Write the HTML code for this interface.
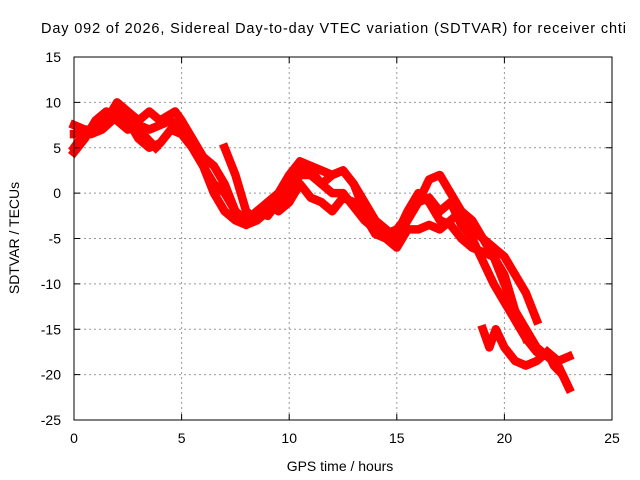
<!DOCTYPE html>
<html><head><meta charset="utf-8"><style>
body{margin:0;background:#fff}
svg{display:block;font-family:"Liberation Sans",sans-serif}
</style></head><body>
<svg id="chart" width="640" height="480" viewBox="0 0 640 480">
<rect x="0" y="0" width="640" height="480" fill="#fff"/>
<text x="41" y="33" font-size="14.5" textLength="585">Day 092 of 2026, Sidereal Day-to-day VTEC variation (SDTVAR) for receiver chti</text>
<g id="grid"></g>
<g id="series"></g>
<rect x="74" y="57" width="538" height="363" fill="none" stroke="#000" stroke-width="1"/>
<g id="ticks"></g>
<text x="340" y="471" font-size="14" text-anchor="middle">GPS time / hours</text>
<text x="19" y="238" font-size="14" text-anchor="middle" transform="rotate(-90 19 238)">SDTVAR / TECUs</text>
</svg>
<script>
const xTicks=[0,5,10,15,20,25];
const yTicks=[15,10,5,0,-5,-10,-15,-20,-25];
const s1=[[0,5],[0.3,6],[0.7,7],[1.5,8],[2,10],[2.5,9],[3,8],[3.5,9],[4,8],[4.7,9],[5,8],[5.5,6],[6,4],[6.5,3],[7,1],[7.5,-2],[8,-3.5],[8.5,-3],[9,-1],[9.5,0],[10,1.5],[10.5,3],[11,2.5],[11.5,1],[12,2],[12.5,2.5],[13,1],[13.5,-1],[14,-3],[14.5,-4],[15,-5],[15.5,-3],[16,-1],[16.5,1.5],[17,2],[17.5,0],[18,-2],[18.5,-4],[19,-5],[19.5,-6],[20,-7],[20.5,-9],[21,-11],[21.5,-14]];
const s2=[[0,7.5],[0.5,7],[1,7],[2,9],[2.5,8],[3,6],[3.5,5],[4,5.5],[4.5,7],[5,6.5],[5.5,5],[6,3],[6.5,0],[7,-2],[7.5,-3],[8,-3.5],[8.5,-2],[9,-1],[9.5,-2],[10,-1],[10.5,1],[11,-0.5],[11.5,-1],[12,-2],[12.5,-0.5],[13,-1],[13.5,-2.5],[14,-4.5],[14.5,-5],[15,-6],[15.5,-4],[16,-4],[16.5,-3.5],[17,-4],[17.5,-3],[18,-2],[18.5,-3],[19,-5],[19.5,-7],[20,-10],[20.5,-13],[21,-15],[21.5,-17],[22,-18],[22.5,-19],[23,-21.5]];
const s3=[[0,4.5],[0.5,6],[1,8],[1.5,9],[2,8],[2.5,7],[3,7.5],[3.5,7],[4,7.5],[4.5,8],[5,7],[5.5,5],[6,3],[6.5,1],[7,0],[7.5,-2],[8,-3],[8.5,-2],[9,-2.5],[9.5,-1],[10,0],[10.5,2],[11,2],[11.5,1],[12,0],[12.5,0],[13,-1.5],[13.5,-3],[14,-4],[14.5,-4.5],[15,-4],[15.5,-2.5],[16,-1],[16.5,-0.5],[17,-2],[17.5,-1],[18,-3.5],[18.5,-5],[19,-7.5],[19.5,-10],[20,-12],[20.5,-14],[21,-16],[21.5,-17.5],[22,-18]];
const s4=[[7,5],[7.5,2],[8,-2],[8.5,-3],[9,-2],[9.5,0],[10,2],[10.5,3.5],[11,3],[11.5,2.5],[12,2],[12.5,2.5],[13,1],[13.5,-2],[14,-3],[14.5,-5],[15,-4.5],[15.5,-2],[16,0],[16.5,-1],[17,-3],[17.5,-3.5],[18,-5],[18.5,-6],[19,-6.5],[19.5,-7],[20,-9],[20.5,-13],[21,-16]];
const s5=[[19,-15],[19.3,-17],[19.6,-15],[20,-17],[20.5,-18.5],[21,-19],[21.5,-18.5],[22,-17.5],[22.3,-19],[22.7,-20],[23,-21.5]];
const s6=[[0,6.5],[0.8,6.5],[1.3,7],[2,8.5],[3,7],[3.8,5]];
const s7=[[22,-17.5],[22.5,-18.5],[23,-18]];
const allSeries=[s1,s2,s3,s4,s5,s6,s7];
const NS='http://www.w3.org/2000/svg';
const X0=74,X1=612,Y0=57,Y1=420;
function xs(v){return X0+(v-0)/(25-0)*(X1-X0);}
function ys(v){return Y0+(15-v)/(15-(-25))*(Y1-Y0);}
const grid=document.getElementById('grid'),ticks=document.getElementById('ticks'),ser=document.getElementById('series');
function mk(tag,attrs,parent){const e=document.createElementNS(NS,tag);for(const k in attrs)e.setAttribute(k,attrs[k]);parent.appendChild(e);return e;}
xTicks.forEach(t=>{const x=xs(t);
 if(t>0&&t<25){const g=mk('line',{x1:x,x2:x,y1:Y0,y2:Y1,stroke:'#999','stroke-dasharray':'2,3'},grid);
 
 }
 const a=mk('line',{x1:x,x2:x,y1:Y1,y2:Y1-6,stroke:'#000'},ticks);
 
 
 const b=mk('line',{x1:x,x2:x,y1:Y0,y2:Y0+6,stroke:'#000'},ticks);
 
 
 const l=mk('text',{x:x,y:443,'font-size':14,'text-anchor':'middle'},ticks);l.textContent=t;
 
 });
yTicks.forEach(t=>{const y=ys(t);
 if(t<15&&t>-25){const g=mk('line',{x1:X0,x2:X1,y1:y,y2:y,stroke:'#999','stroke-dasharray':'2,3'},grid);
 
 }
 const a=mk('line',{x1:X0,x2:X0+6,y1:y,y2:y,stroke:'#000'},ticks);
 
 
 const b=mk('line',{x1:X1,x2:X1-6,y1:y,y2:y,stroke:'#000'},ticks);
 
 
 const l=mk('text',{x:61,y:y+5,'font-size':14,'text-anchor':'end'},ticks);l.textContent=t;
 
 });
allSeries.forEach((s,i)=>{const p=mk('polyline',{points:s.map(d=>xs(d[0])+','+ys(d[1])).join(' '),fill:'none',stroke:'#f00','stroke-width':8.5,'stroke-linejoin':'round','stroke-linecap':'square'},ser);
 
 });
</script>
</body></html>
